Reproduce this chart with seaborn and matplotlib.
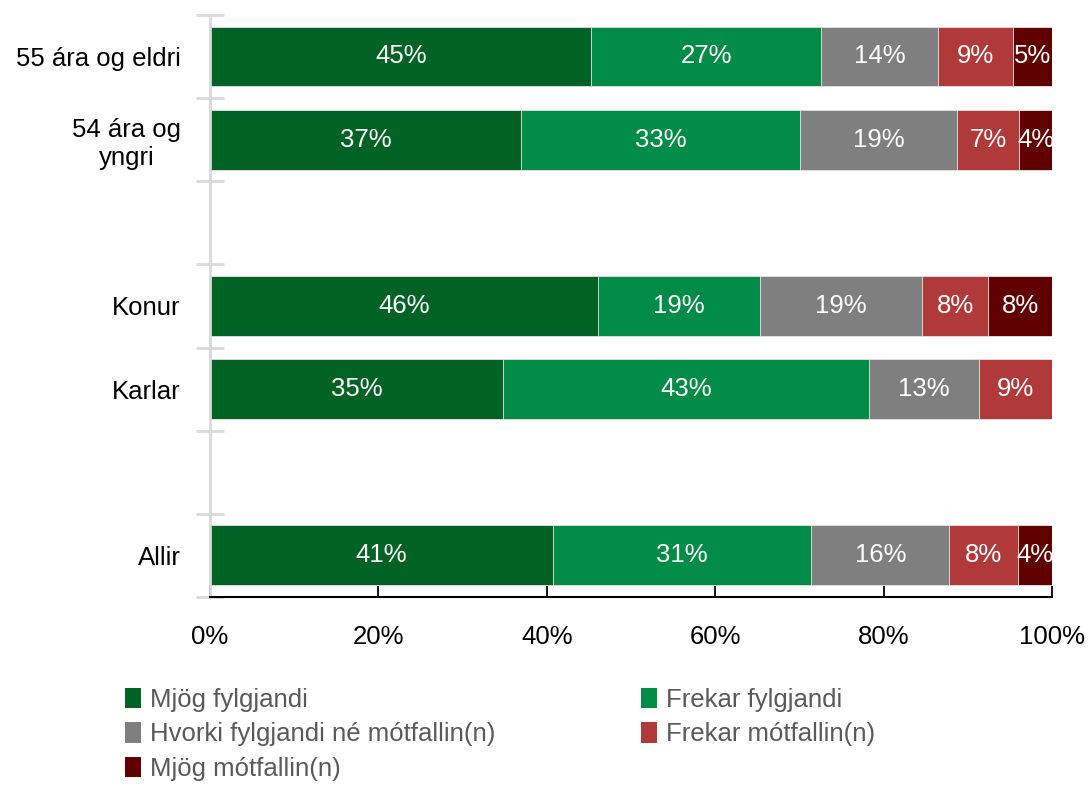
import numpy as np
import pandas as pd
import matplotlib
matplotlib.use("Agg")
import matplotlib.pyplot as plt
import seaborn as sns
from matplotlib.patches import Patch
from matplotlib.ticker import FixedLocator, PercentFormatter

sns.set_theme(style="white")
plt.rcParams["font.family"] = ["Liberation Sans", "DejaVu Sans"]

# ---------- data (percent of respondents) ----------
groups = ["55 ára og eldri", "54 ára og\nyngri", "Konur", "Karlar", "Allir"]
slots = ["55 ára og eldri", "54 ára og\nyngri", "", "Konur", "Karlar", " ", "Allir"]
answers = ["Mjög fylgjandi", "Frekar fylgjandi", "Hvorki fylgjandi né mótfallin(n)",
           "Frekar mótfallin(n)", "Mjög mótfallin(n)"]
mjog_fylgjandi = [45.3, 36.9, 46.1, 34.8, 40.7]
frekar_fylgjandi = [27.3, 33.2, 19.2, 43.4, 30.7]
hvorki = [13.8, 18.6, 19.3, 13.1, 16.4]
frekar_motfallin = [9.0, 7.4, 7.8, 8.7, 8.2]
mjog_motfallin = [4.6, 3.9, 7.6, 0.0, 4.0]
colors = ["#006325", "#008C46", "#7F7F7F", "#B0393A", "#600000"]

vals = pd.DataFrame(
    np.array([mjog_fylgjandi, frekar_fylgjandi, hvorki, frekar_motfallin, mjog_motfallin]).T,
    index=groups, columns=answers)
cum = vals.cumsum(axis=1)

FS = 18.5

fig, ax = plt.subplots(figsize=(10.88, 7.85), dpi=100)
fig.subplots_adjust(left=0.193, right=0.967, top=0.981, bottom=0.2395)

# stacked bars: draw cumulative totals from the widest down
for col, c in reversed(list(zip(answers, colors))):
    d = pd.DataFrame({"group": groups, "end": cum[col].values})
    sns.barplot(data=d, y="group", x="end", order=slots, color=c, width=0.72,
                saturation=1, edgecolor="#E6E6E6", linewidth=0.6, ax=ax)

# value labels centred in each segment
for g in groups:
    yi = slots.index(g)
    for col in answers:
        v = vals.loc[g, col]
        if v <= 0:
            continue
        ax.text(cum.loc[g, col] - v / 2, yi, f"{v:.0f}%", ha="center", va="center",
                color="white", fontsize=FS)

ax.set_xlim(0, 100)
ax.set_ylim(len(slots) - 0.5, -0.5)
ax.set_xlabel("")
ax.set_ylabel("")
ax.xaxis.set_major_locator(FixedLocator([0, 20, 40, 60, 80, 100]))
ax.xaxis.set_major_formatter(PercentFormatter(100, decimals=0))
ax.tick_params(axis="x", direction="in", length=8, width=1.3, color="black",
               labelsize=FS, labelcolor="black", pad=20, bottom=True)
ax.tick_params(axis="y", which="major", length=0, labelsize=FS, labelcolor="black", pad=21)
for lab in ax.get_yticklabels():
    lab.set_multialignment("center")
ax.yaxis.set_minor_locator(FixedLocator(np.arange(-0.5, len(slots), 1.0)))
ax.tick_params(axis="y", which="minor", direction="inout", length=20, width=2,
               color="#D9D9D9", left=True)

for s in ["top", "right"]:
    ax.spines[s].set_visible(False)
ax.spines["left"].set_color("#D9D9D9")
ax.spines["left"].set_linewidth(2)
ax.spines["bottom"].set_color("black")
ax.spines["bottom"].set_linewidth(1.5)
ax.spines["bottom"].set_zorder(5)

handles = [Patch(facecolor=c, edgecolor="none") for c in colors]
order = [0, 2, 4, 1, 3]
leg = fig.legend([handles[i] for i in order], [answers[i] for i in order],
                 loc="upper left", bbox_to_anchor=(0.115, 0.124), ncol=2, frameon=False,
                 fontsize=FS, handlelength=0.62, handleheight=0.85, handletextpad=0.35,
                 labelspacing=0.4, columnspacing=5.65, borderpad=0, borderaxespad=0)
for t in leg.get_texts():
    t.set_color("#595959")

fig.savefig("out.png", dpi=100)
